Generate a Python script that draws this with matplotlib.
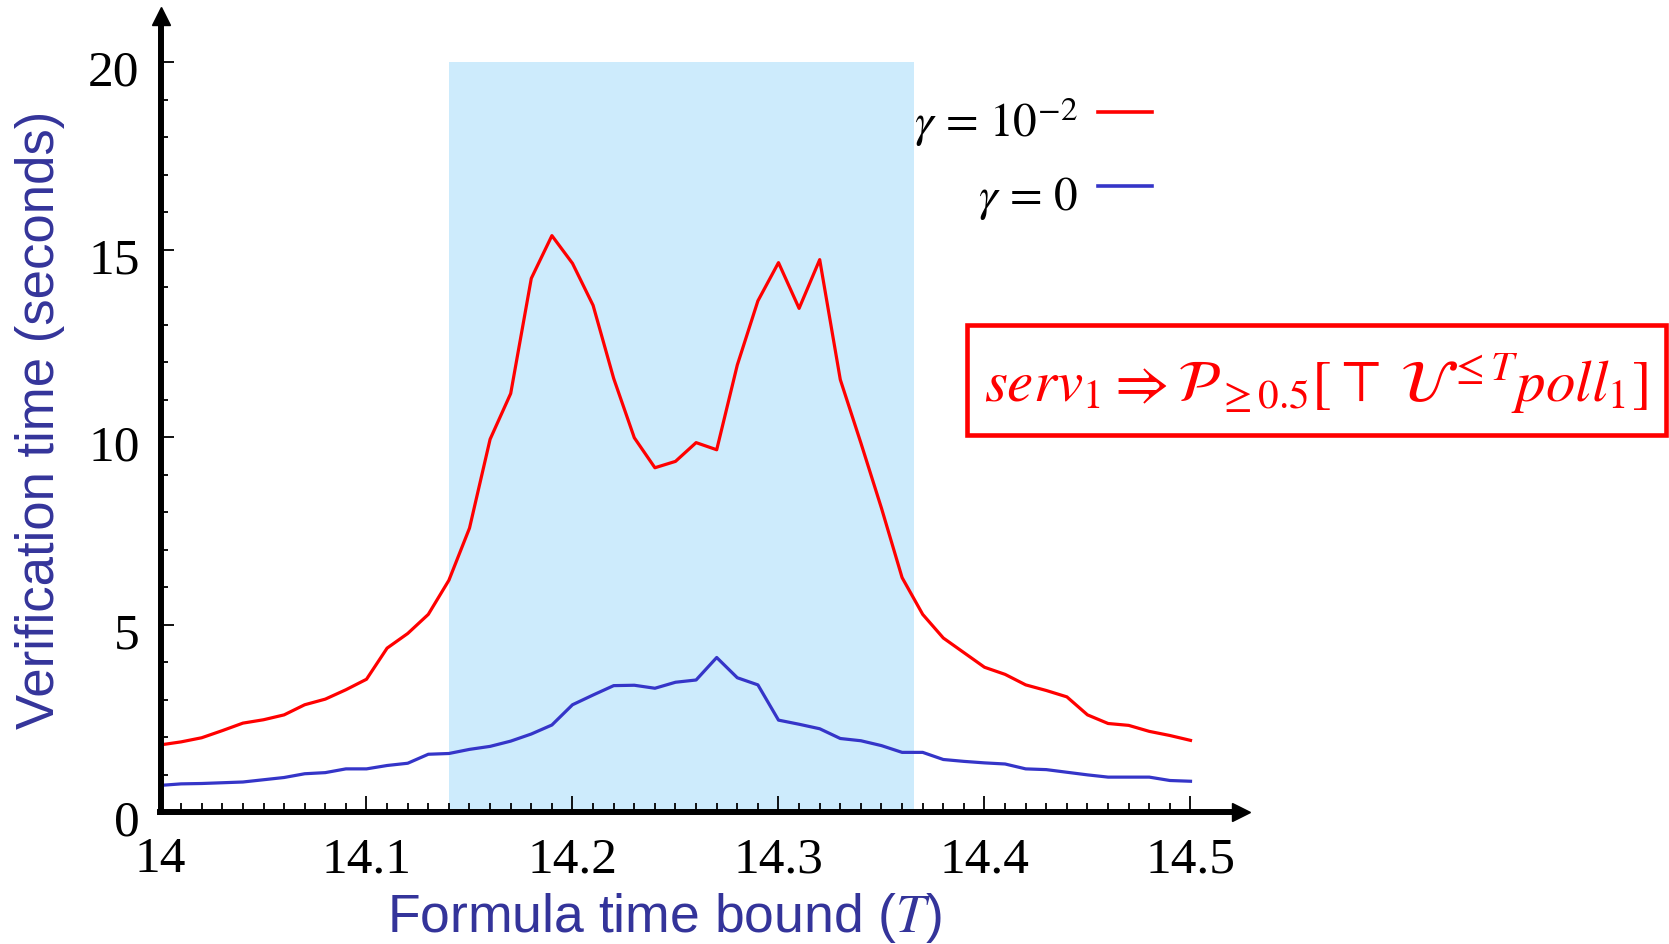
import matplotlib
matplotlib.use('Agg')
import matplotlib.pyplot as plt
import matplotlib.transforms as mtransforms
from matplotlib.lines import Line2D
from matplotlib.patches import Rectangle
from matplotlib.ticker import FixedLocator
import numpy as np

plt.rcParams['mathtext.fontset'] = 'stix'

# formula time bound T, step 0.01
T = np.round(np.arange(14.0, 14.5001, 0.01), 2)

# verification time (seconds), gamma = 1e-2
time_gamma_1e2 = [1.79, 1.87, 1.98, 2.17, 2.37, 2.46, 2.59, 2.86, 3.01, 3.26,
                  3.54, 4.37, 4.76, 5.27, 6.18, 7.57, 9.94, 11.16, 14.23, 15.37,
                  14.63, 13.51, 11.56, 9.98, 9.18, 9.35, 9.85, 9.66, 11.92, 13.63,
                  14.65, 13.43, 14.73, 11.53, 9.84, 8.10, 6.25, 5.27, 4.64, 4.25,
                  3.86, 3.67, 3.39, 3.24, 3.07, 2.59, 2.36, 2.31, 2.15, 2.04, 1.91]
# verification time (seconds), gamma = 0
time_gamma_0 = [0.71, 0.75, 0.76, 0.78, 0.80, 0.86, 0.92, 1.02, 1.05, 1.15,
                1.15, 1.24, 1.30, 1.54, 1.56, 1.67, 1.75, 1.89, 2.08, 2.32,
                2.86, 3.12, 3.37, 3.38, 3.30, 3.46, 3.52, 4.12, 3.58, 3.39,
                2.45, 2.34, 2.22, 1.96, 1.90, 1.77, 1.59, 1.59, 1.40, 1.35,
                1.31, 1.28, 1.15, 1.13, 1.06, 0.99, 0.93, 0.93, 0.93, 0.84, 0.82]

shade_x = [14.14, 14.366]
shade_top = 20

RED = '#ff0000'
BLUE = '#3535c8'
LABEL_BLUE = '#34349a'
SHADE = '#cdebfc'
W, H = 1669, 944

fig = plt.figure(figsize=(W / 100, H / 100), dpi=100)
ax = fig.add_axes([160.5 / W, 132 / H, 1080 / W, 796 / H])

ax.fill_between(shade_x, 0, shade_top, color=SHADE, lw=0, zorder=1)
ax.plot(T, time_gamma_1e2, color=RED, lw=2.3, zorder=3)
ax.plot(T, time_gamma_0, color=BLUE, lw=2.3, zorder=3)

ax.set_xlim(14.0, 14.0 + 1080 / 2060)
ax.set_ylim(0, 796 / 37.5)

for s in ['top', 'right']:
    ax.spines[s].set_visible(False)
for s in ['left', 'bottom']:
    ax.spines[s].set_linewidth(4.3)
    ax.spines[s].set_zorder(4)

# arrow heads
ax.plot([1], [0], marker='>', ms=13, color='k', transform=ax.transAxes,
        clip_on=False, zorder=5)
ax.plot([0], [1], marker='^', ms=13, color='k', transform=ax.transAxes,
        clip_on=False, zorder=5)

ax.xaxis.set_major_locator(FixedLocator([14.0, 14.1, 14.2, 14.3, 14.4, 14.5]))
ax.xaxis.set_minor_locator(FixedLocator(np.round(np.arange(14.0, 14.5001, 0.01), 2)))
ax.yaxis.set_major_locator(FixedLocator([0, 5, 10, 15, 20]))
ax.yaxis.set_minor_locator(FixedLocator(list(range(0, 21))))
ax.set_xticklabels(['14', '14.1', '14.2', '14.3', '14.4', '14.5'])
ax.set_yticklabels(['0', '5', '10', '15', '20'])

ax.tick_params(axis='x', which='major', direction='in', length=11.5, width=1.3, pad=18)
ax.tick_params(axis='x', which='minor', direction='in', length=6.5, width=1.3)
ax.tick_params(axis='y', which='major', direction='in', length=9.7, width=1.3, pad=15)
ax.tick_params(axis='y', which='minor', direction='in', length=4.7, width=1.3)

for lab in ax.get_xticklabels() + ax.get_yticklabels():
    lab.set_fontfamily('Liberation Serif')
    lab.set_fontsize(37)
offset = mtransforms.ScaledTranslation(0, -6 / 100, fig.dpi_scale_trans)
for lab in ax.get_yticklabels():
    lab.set_transform(lab.get_transform() + offset)

# axis titles
fig.text(40 / W, 1 - 420 / H, 'Verification time (seconds)', rotation=90,
         ha='center', va='center', fontsize=38, color=LABEL_BLUE,
         fontfamily='Liberation Sans')
fig.text(664 / W, 1 - 932 / H, r'Formula time bound ($T$)', ha='center',
         va='baseline', fontsize=38.5, color=LABEL_BLUE, fontfamily='Liberation Sans')

# legend drawn by hand
fig.text(1078 / W, 1 - 137 / H, r'$\gamma$ = 10$^{-2}$', ha='right', va='baseline',
         fontsize=34, color='k', fontfamily='STIXGeneral')
fig.text(1078 / W, 1 - 210 / H, r'$\gamma$ = 0', ha='right', va='baseline',
         fontsize=34, color='k', fontfamily='STIXGeneral')
fig.add_artist(Line2D([1098 / W, 1152 / W], [1 - 112 / H, 1 - 112 / H],
                      color=RED, lw=2.6, transform=fig.transFigure))
fig.add_artist(Line2D([1098 / W, 1152 / W], [1 - 186 / H, 1 - 186 / H],
                      color=BLUE, lw=2.6, transform=fig.transFigure))

# formula box
fig.add_artist(Rectangle((967 / W, 1 - 435 / H), 699 / W, 110 / H, fill=False,
                         edgecolor=RED, lw=3.3, transform=fig.transFigure))
fig.text(984 / W, 1 - 402 / H,
         r'$serv_1 \Rightarrow \mathcal{P}_{\geq 0.5}[\top\;\mathcal{U}^{\leq T} poll_1]$',
         ha='left', va='baseline', fontsize=42.5, color=RED)

fig.savefig('out.png', dpi=100)
